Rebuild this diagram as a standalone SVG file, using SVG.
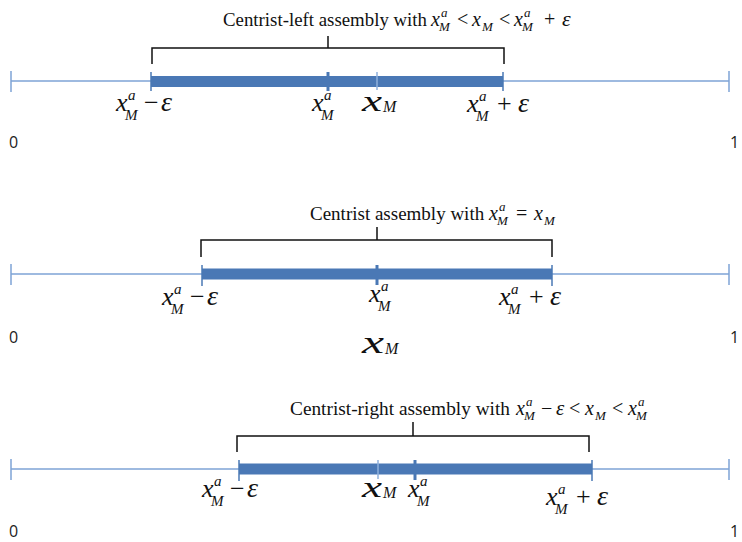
<svg xmlns="http://www.w3.org/2000/svg" width="742" height="542" viewBox="0 0 742 542">
<style>
.bg{fill:#fff}
.axis{stroke:#7ea3d6;stroke-width:1.5;fill:none}
.bar{fill:#4a78b5}
.tk{stroke:#4a78b5;stroke-width:1.5}
.tkb{stroke:#4a78b5;stroke-width:3}
.tkl{stroke:#8fb0dc;stroke-width:1.5}
.br{stroke:#111;stroke-width:1.5;fill:none}
.t{font-family:"Liberation Serif","Times New Roman",serif;font-size:19px;fill:#111}
.m{font-family:"Liberation Serif","Times New Roman",serif;font-style:italic;fill:#111}
.up{font-style:normal}
.num{font-family:"Open Sans","Liberation Sans",Arial,sans-serif;font-size:16px;fill:#222}
</style>
<rect class="bg" x="0" y="0" width="742" height="542"/>

<g id="panel-left">
  <line class="axis" x1="11" y1="81" x2="729" y2="81"/>
  <line class="axis" x1="11" y1="71" x2="11" y2="92"/>
  <line class="axis" x1="729" y1="71" x2="729" y2="92"/>
  <rect class="bar" x="151" y="76" width="352" height="11"/>
  <line class="tk" x1="151" y1="72" x2="151" y2="91"/>
  <line class="tk" x1="503" y1="72" x2="503" y2="91"/>
  <line class="tkb" x1="328" y1="72" x2="328" y2="91"/>
  <line class="tkl" x1="377" y1="72" x2="377" y2="90"/>
  <text class="t" x="223" y="26" textLength="204" lengthAdjust="spacingAndGlyphs">Centrist-left assembly with</text>
  <text class="m" font-size="20"><tspan x="431" y="26">x</tspan><tspan x="441" y="17" font-size="13">a</tspan><tspan x="439" y="31" font-size="13">M</tspan><tspan class="up" x="457" y="26">&lt;</tspan><tspan x="472" y="26">x</tspan><tspan x="482" y="31" font-size="13">M</tspan><tspan class="up" x="499" y="26">&lt;</tspan><tspan x="514" y="26">x</tspan><tspan x="524" y="17" font-size="13">a</tspan><tspan x="522" y="31" font-size="13">M</tspan><tspan class="up" x="544" y="26">+</tspan><tspan x="562" y="26" font-size="22">ε</tspan></text>
  <text class="m" font-size="26"><tspan x="116" y="111">x</tspan><tspan x="128" y="100" font-size="15">a</tspan><tspan x="125" y="120" font-size="15">M</tspan><tspan class="up" x="144" y="111">−</tspan><tspan x="161" y="111" font-size="28">ε</tspan></text>
  <text class="m" font-size="26"><tspan x="312" y="111">x</tspan><tspan x="324" y="100" font-size="15">a</tspan><tspan x="321" y="120" font-size="15">M</tspan></text>
  <text class="m"><tspan x="362" y="111" font-size="30" textLength="20" lengthAdjust="spacingAndGlyphs">x</tspan><tspan x="383" y="112" font-size="16">M</tspan></text>
  <text class="m" font-size="26"><tspan x="467" y="112">x</tspan><tspan x="479" y="101" font-size="15">a</tspan><tspan x="476" y="121" font-size="15">M</tspan><tspan class="up" x="497" y="112">+</tspan><tspan x="518" y="112" font-size="28">ε</tspan></text>
  <text class="num" x="9" y="148">0</text>
  <text class="num" x="730" y="148">1</text>
</g>

<g id="panel-centrist">
  <line class="axis" x1="11" y1="274" x2="729" y2="274"/>
  <line class="axis" x1="11" y1="264" x2="11" y2="285"/>
  <line class="axis" x1="729" y1="264" x2="729" y2="285"/>
  <rect class="bar" x="202" y="268.5" width="350" height="11"/>
  <line class="tk" x1="202" y1="265" x2="202" y2="286"/>
  <line class="tk" x1="552" y1="265" x2="552" y2="286"/>
  <line class="tkb" x1="377" y1="265" x2="377" y2="285"/>
  <text class="t" x="310" y="220">Centrist assembly with</text>
  <text class="m" font-size="20"><tspan x="489" y="220">x</tspan><tspan x="499" y="211" font-size="13">a</tspan><tspan x="497" y="225" font-size="13">M</tspan><tspan class="up" x="516" y="220">=</tspan><tspan x="534" y="220">x</tspan><tspan x="544" y="225" font-size="13">M</tspan></text>
  <text class="m" font-size="26"><tspan x="162" y="305">x</tspan><tspan x="174" y="294" font-size="15">a</tspan><tspan x="171" y="314" font-size="15">M</tspan><tspan class="up" x="190" y="305">−</tspan><tspan x="207" y="305" font-size="28">ε</tspan></text>
  <text class="m" font-size="26"><tspan x="369" y="302">x</tspan><tspan x="381" y="291" font-size="15">a</tspan><tspan x="378" y="311" font-size="15">M</tspan></text>
  <text class="m" font-size="26"><tspan x="499" y="305">x</tspan><tspan x="511" y="294" font-size="15">a</tspan><tspan x="508" y="314" font-size="15">M</tspan><tspan class="up" x="529" y="305">+</tspan><tspan x="550" y="305" font-size="28">ε</tspan></text>
  <text class="m"><tspan x="362" y="353" font-size="31" textLength="22" lengthAdjust="spacingAndGlyphs">x</tspan><tspan x="385" y="354" font-size="16">M</tspan></text>
  <text class="num" x="9" y="343">0</text>
  <text class="num" x="730" y="343">1</text>
</g>

<g id="panel-right">
  <line class="axis" x1="11" y1="469" x2="729" y2="469"/>
  <line class="axis" x1="11" y1="459" x2="11" y2="480"/>
  <line class="axis" x1="729" y1="459" x2="729" y2="480"/>
  <rect class="bar" x="239" y="463.5" width="353" height="11"/>
  <line class="tk" x1="239" y1="460" x2="239" y2="481"/>
  <line class="tk" x1="592" y1="460" x2="592" y2="481"/>
  <line class="tkl" x1="378" y1="460" x2="378" y2="479"/>
  <line class="tkb" x1="415" y1="460" x2="415" y2="480"/>
  <text class="t" x="290" y="415" textLength="220" lengthAdjust="spacingAndGlyphs">Centrist-right assembly with</text>
  <text class="m" font-size="20"><tspan x="516" y="415">x</tspan><tspan x="526" y="406" font-size="13">a</tspan><tspan x="524" y="420" font-size="13">M</tspan><tspan class="up" x="541" y="415">−</tspan><tspan x="556" y="415" font-size="21">ε</tspan><tspan class="up" x="569" y="415">&lt;</tspan><tspan x="585" y="415">x</tspan><tspan x="595" y="420" font-size="13">M</tspan><tspan class="up" x="612" y="415">&lt;</tspan><tspan x="628" y="415">x</tspan><tspan x="638" y="406" font-size="13">a</tspan><tspan x="636" y="420" font-size="13">M</tspan></text>
  <text class="m" font-size="26"><tspan x="202" y="497">x</tspan><tspan x="214" y="486" font-size="15">a</tspan><tspan x="211" y="506" font-size="15">M</tspan><tspan class="up" x="230" y="497">−</tspan><tspan x="247" y="497" font-size="28">ε</tspan></text>
  <text class="m"><tspan x="362" y="497" font-size="30" textLength="20" lengthAdjust="spacingAndGlyphs">x</tspan><tspan x="383" y="498" font-size="16">M</tspan></text>
  <text class="m" font-size="26"><tspan x="408" y="497">x</tspan><tspan x="420" y="486" font-size="15">a</tspan><tspan x="417" y="506" font-size="15">M</tspan></text>
  <text class="m" font-size="26"><tspan x="546" y="505">x</tspan><tspan x="558" y="494" font-size="15">a</tspan><tspan x="555" y="514" font-size="15">M</tspan><tspan class="up" x="576" y="505">+</tspan><tspan x="597" y="505" font-size="28">ε</tspan></text>
  <text class="num" x="9" y="537">0</text>
  <text class="num" x="730" y="537">1</text>
</g>

<g id="connectors">
  <path class="br" d="M152,64 V48 H504 V64 M328,48 V36"/>
  <path class="br" d="M201,257 V240 H552 V257 M377,240 V227"/>
  <path class="br" d="M237,452 V436 H589 V452 M413,436 V422"/>
</g>
</svg>
